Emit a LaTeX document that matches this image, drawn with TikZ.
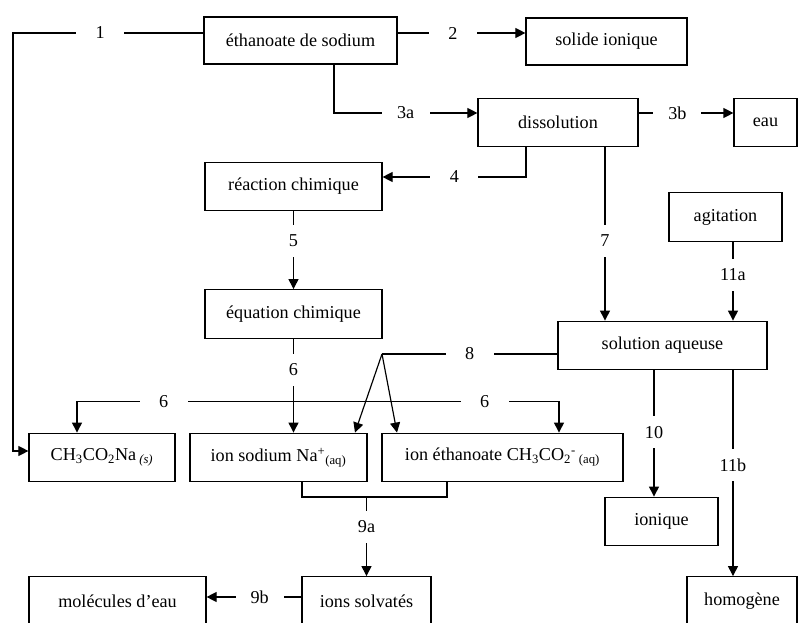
\documentclass[tikz,border=0pt]{standalone}
\usepackage{fontspec}
\setmainfont{Liberation Serif}
\usetikzlibrary{arrows.meta}

\tikzset{
  box/.style={draw, line width=1pt, inner sep=0pt, minimum height=1.46cm,
    font=\fontsize{15.5}{18}\selectfont},
  boxthick/.style={box, line width=2.4pt},
  lbl/.style={fill=white, inner sep=0pt, minimum width=1.44cm, minimum height=0.96cm,
    font=\fontsize{15.5}{18}\selectfont},
  arr/.style={-{Triangle[length=0.3cm,width=0.3cm]}},
}

\begin{document}
\begin{tikzpicture}[x=0.03cm, y=-0.03cm, line width=1pt]
  % cadre de l'image
  \useasboundingbox (0,0) rectangle (798,623);
  \clip (0,0) rectangle (798,623);

  % Cases
  \node[boxthick, minimum width=5.79cm, minimum height=1.41cm] (eth) at (300.5,40.5) {éthanoate de sodium};
  \node[box, minimum width=4.83cm, minimum height=1.41cm] (sol) at (606.5,41.5) {solide ionique};
  \node[box, minimum width=4.8cm] (diss) at (558,122.5) {dissolution};
  \node[box, minimum width=1.89cm] (eau) at (765.5,122.5) {eau};
  \node[box, minimum width=5.31cm] (reac) at (293.5,186.5) {réaction chimique};
  \node[box, minimum width=5.31cm] (equa) at (293.5,314) {équation chimique};
  \node[box, minimum width=3.39cm] (agit) at (725.5,217) {agitation};
  \node[box, minimum width=6.27cm] (saq) at (662.5,345.5) {solution aqueuse};
  \node[box, minimum width=4.38cm] (ch) at (102,457.5) {CH\textsubscript{3}CO\textsubscript{2}Na\,\textsubscript{\textit{(s)}}};
  \node[box, minimum width=5.31cm] (ionna) at (278.5,457.5) {ion sodium Na\textsuperscript{+}\textsubscript{(aq)}};
  \node[box, minimum width=7.23cm] (ionet) at (502.5,457.5) {ion éthanoate CH\textsubscript{3}CO\textsubscript{2}\textsuperscript{-}\,\textsubscript{(aq)}};
  \node[box, minimum width=3.39cm] (ioniq) at (661.5,521.5) {ionique};
  \node[box, minimum width=3.3cm] (homo) at (742,601) {homogène};
  \node[box, minimum width=5.31cm] (mol) at (117.5,601) {molécules d’eau};
  \node[box, minimum width=3.87cm] (solv) at (366.5,601) {ions solvatés};

  % Liens
  \draw[arr] (eth.west |- 0,33) -- node[lbl,pos=.54]{1} (13,33) |- (ch.west |- 0,451);
  \draw[arr] (eth.east |- 0,33) -- node[lbl,pos=.43]{2} (sol.west |- 0,33);
  \draw[arr] (eth.south -| 334,0) |- node[lbl,pos=.75]{3a} (diss.west |- 0,113);
  \draw[arr] (diss.east |- 0,113) -- node[lbl,pos=.41]{3b} (eau.west |- 0,113);
  \draw[arr] (diss.south -| 526,0) |- node[lbl,pos=.75]{4} (reac.east |- 0,177);
  \draw[arr] (reac) -- node[lbl,pos=.38]{5} (equa);
  \draw[arr] (diss.south -| 605,0) -- node[lbl,pos=.54]{7} (saq.north -| 605,0);
  \draw[arr] (agit.south -| 733,0) -- node[lbl,pos=.42]{11a} (saq.north -| 733,0);

  % 6 : de l'équation vers les trois espèces
  \draw[arr] (equa.south) -- node[lbl,pos=.33]{6} coordinate[pos=.67] (x6) (ionna.north -| equa.south);
  \draw[arr] (x6) -| node[lbl,pos=.3]{6} (ch.north -| 77,0);
  \draw[arr] (x6) -| node[lbl,pos=.36]{6} (ionet.north -| 559,0);

  % 8 : solution aqueuse vers les ions
  \draw (saq.west |- 0,354) -- node[lbl]{8} (382,354) coordinate (s8);
  \draw[arr] (s8) -- (ionna.north -| 355,0);
  \draw[arr] (s8) -- (ionet.north -| 397,0);

  % 9a et 9b
  \draw (ionna.south -| 302,0) |- (447,497) coordinate (e9) -- (ionet.south -| e9);
  \coordinate (j9) at (solv.north |- e9);
  \draw[arr] (j9) -- node[lbl,pos=.38]{9a} (solv.north);
  \draw[arr] (solv.west |- 0,597) -- node[lbl,pos=.44]{9b} (mol.east |- 0,597);

  % 10 et 11b
  \draw[arr] (saq.south -| 654,0) -- node[lbl,pos=.49]{10} (ioniq.north -| 654,0);
  \draw[arr] (saq.south -| 733,0) -- node[lbl,pos=.46]{11b} (homo.north -| 733,0);
\end{tikzpicture}
\end{document}
